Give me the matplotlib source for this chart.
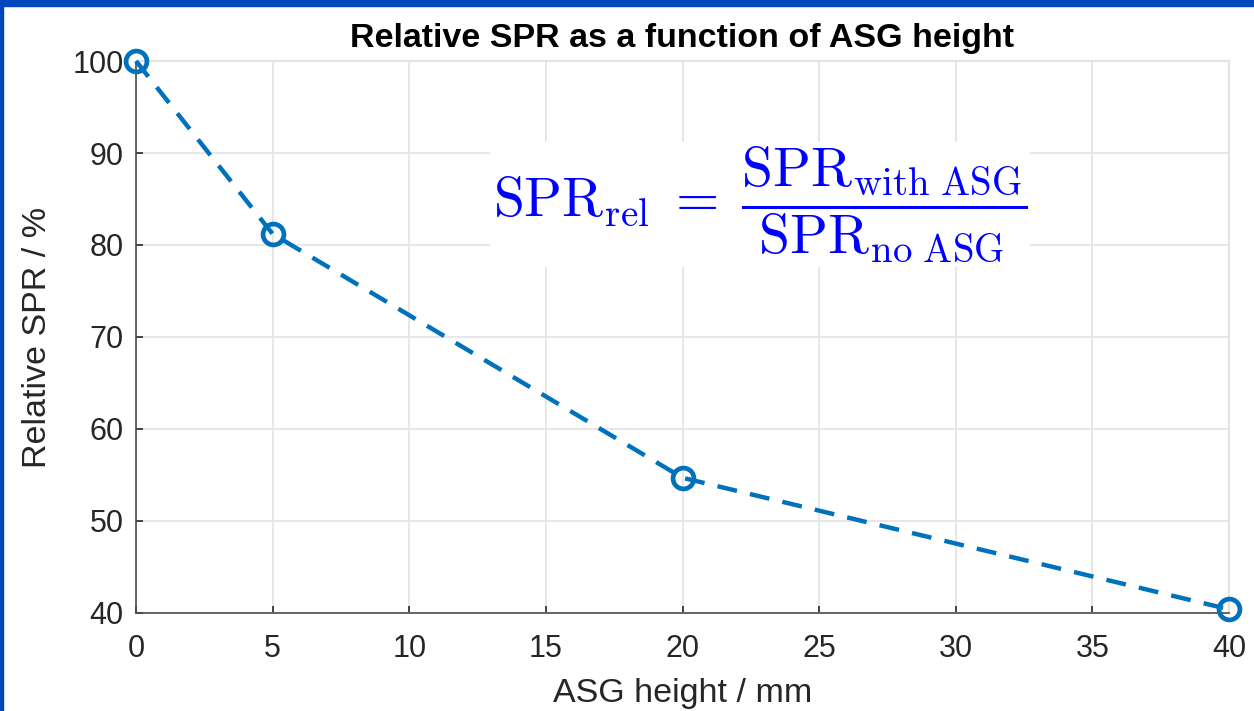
import matplotlib
matplotlib.use("Agg")
import matplotlib.pyplot as plt
from matplotlib.patches import Rectangle

# data
asg_height = [0, 5, 20, 40]
spr_rel = [100, 81.2, 54.7, 40.4]
x_ticks = [0, 5, 10, 15, 20, 25, 30, 35, 40]
y_ticks = [40, 50, 60, 70, 80, 90, 100]

plt.rcParams['font.family'] = ['Liberation Sans', 'DejaVu Sans']
plt.rcParams['mathtext.fontset'] = 'cm'

txt = '#262626'
fig = plt.figure(figsize=(12.54, 7.11), dpi=100)
ax = fig.add_axes([136/1254, 1 - 613/711, (1229-136)/1254, (613-61)/711])

ax.plot(asg_height, spr_rel, '--o', color='#0072BD', lw=3.2, dashes=(4.5, 3.0),
        markersize=15, markerfacecolor='none', markeredgewidth=3.4, clip_on=False, zorder=5)

ax.set_xlim(0, 40)
ax.set_ylim(40, 100)
ax.set_xticks(x_ticks)
ax.set_yticks(y_ticks)
ax.grid(True, color='#e3e3e3', lw=1.2)
ax.set_axisbelow(True)
ax.tick_params(direction='in', length=5, width=1.2, colors=txt, labelsize=22, pad=15)
ax.tick_params(axis='y', pad=9)
for s in ['left', 'bottom']:
    ax.spines[s].set_color('#4d4d4d')
    ax.spines[s].set_linewidth(1.2)
for s in ['top', 'right']:
    ax.spines[s].set_color('#e3e3e3')
    ax.spines[s].set_linewidth(1.5)

ax.set_title('Relative SPR as a function of ASG height', fontsize=24.5, fontweight='bold',
             color='black', pad=10)
ax.set_xlabel('ASG height / mm', fontsize=24.5, color=txt, labelpad=10)
ax.set_ylabel('Relative SPR / %', fontsize=24.5, color=txt, labelpad=14)

ax.text(22.85, 84.4,
        r'$\mathrm{SPR}_{\mathrm{rel}}\;=\;\dfrac{\mathrm{SPR}_{\mathrm{with\ ASG}}}{\mathrm{SPR}_{\mathrm{no\ ASG}}}$',
        fontsize=40, color='#0000ff', ha='center', va='center', zorder=4,
        bbox=dict(facecolor='white', edgecolor='none', pad=2))

# blue frame (top and left)
fig.patches.append(Rectangle((0, 1 - 6/711), 1, 6/711, transform=fig.transFigure,
                             color='#0047BB', zorder=10))
fig.patches.append(Rectangle((0, 0), 3/1254, 1, transform=fig.transFigure,
                             color='#0047BB', zorder=10))

fig.savefig('out.png', dpi=100)
